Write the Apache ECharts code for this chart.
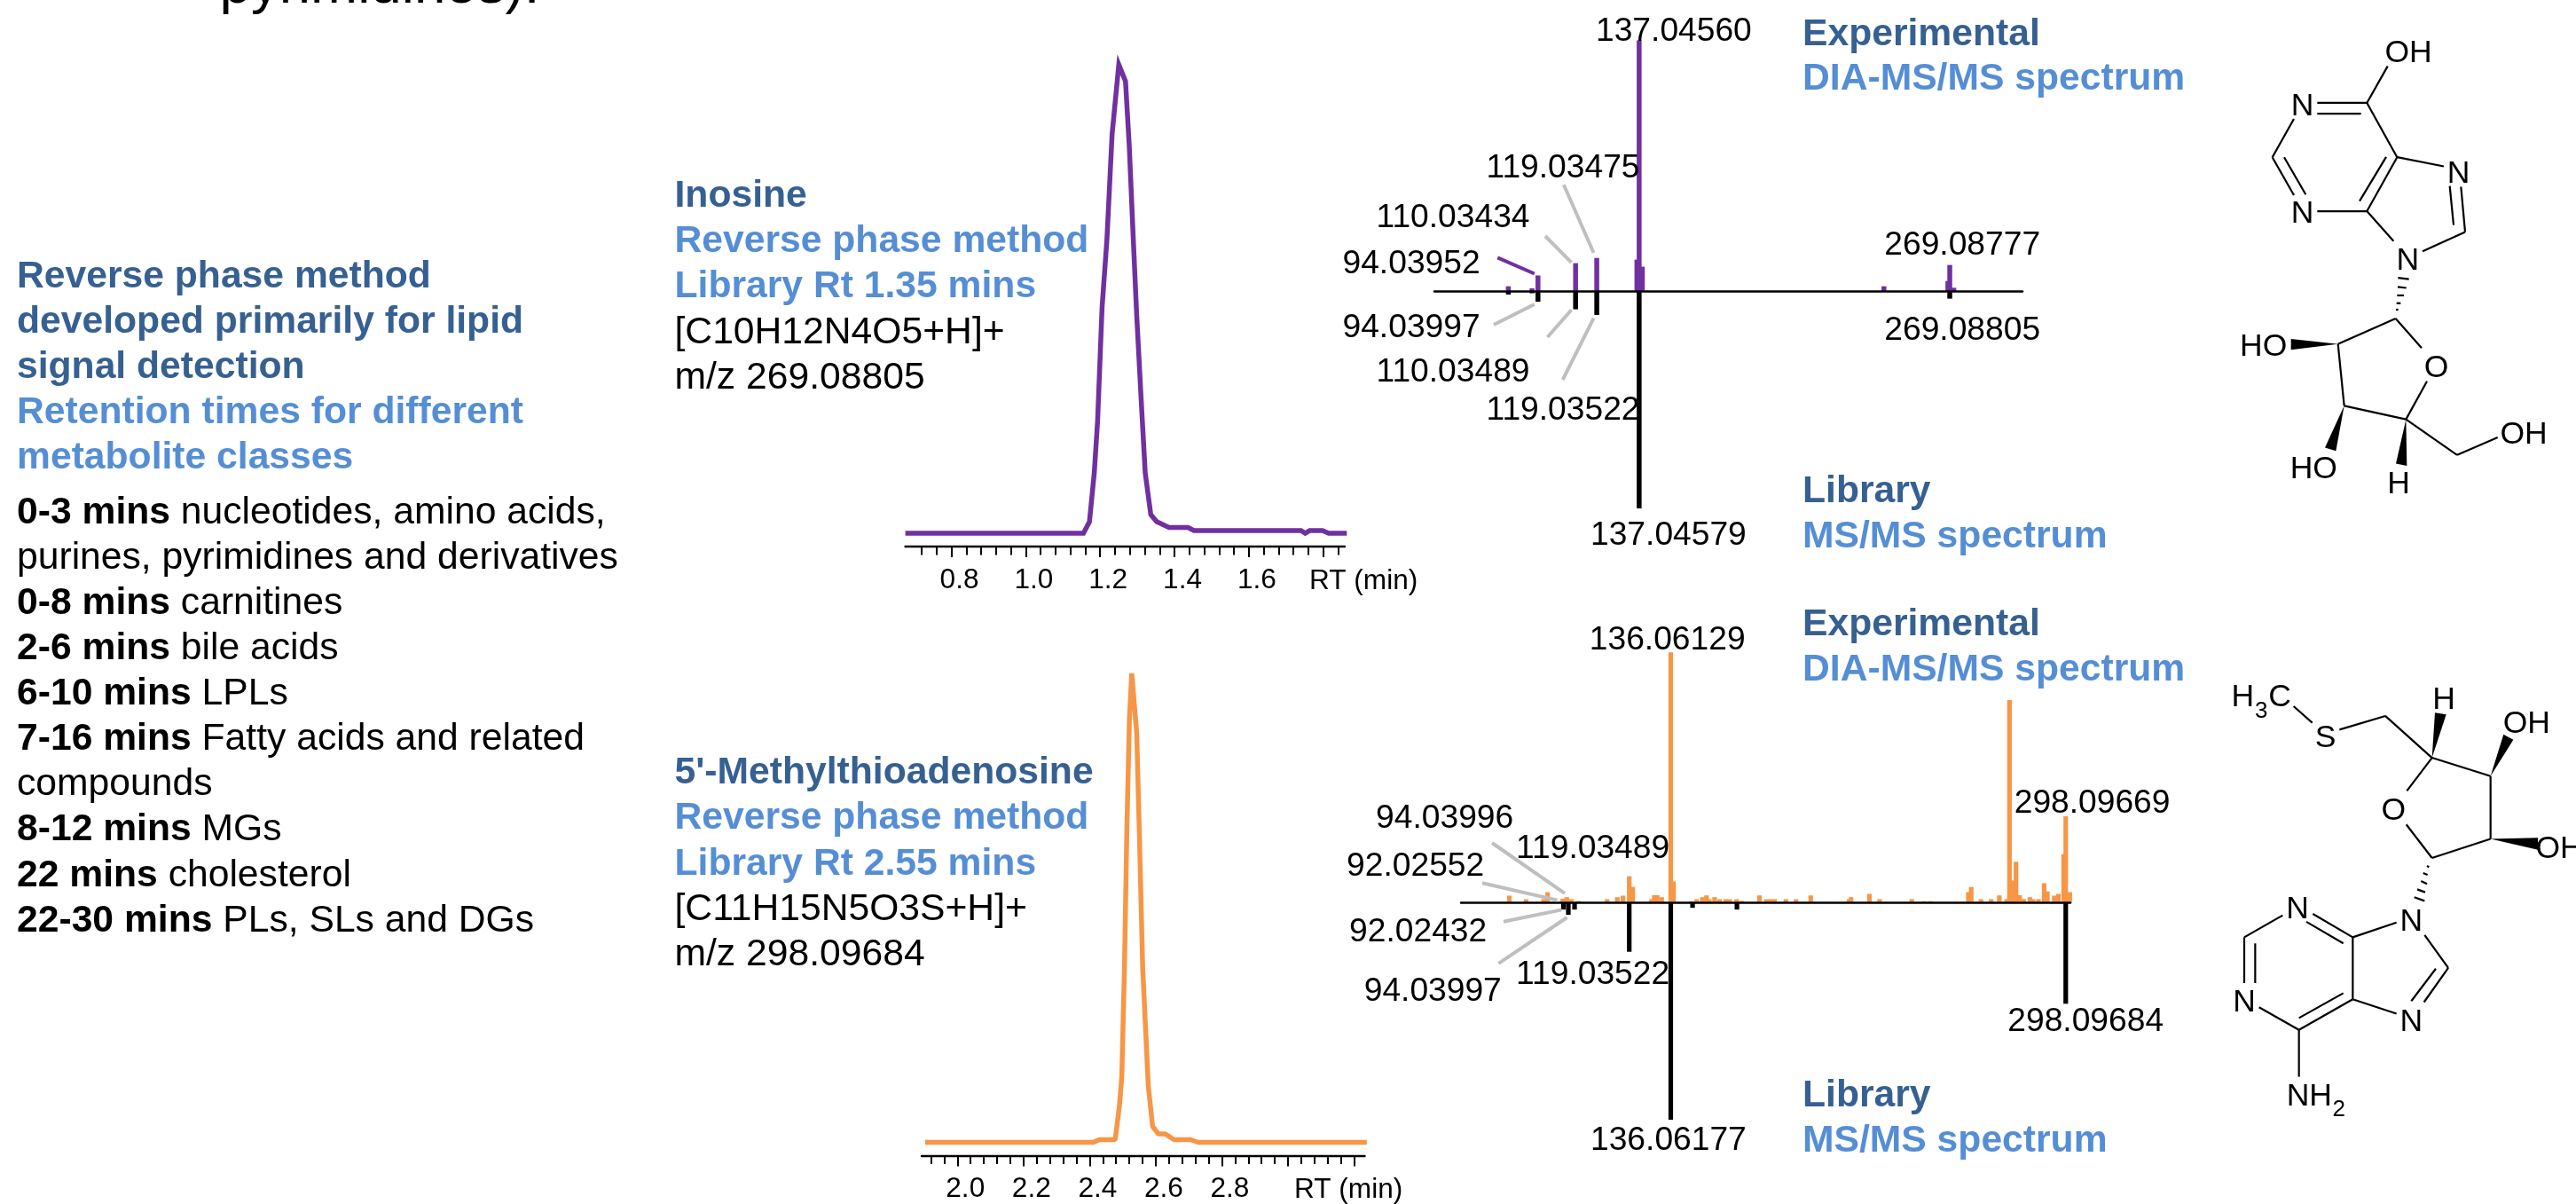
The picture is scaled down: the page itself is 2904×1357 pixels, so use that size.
<!DOCTYPE html>
<html><head><meta charset="utf-8">
<style>html,body{margin:0;padding:0;background:#fff}#c{width:2904px;height:1357px}</style>
<script src="https://cdn.jsdelivr.net/npm/echarts@6/dist/echarts.min.js"></script>
</head><body><div id="c"></div>
<script>
// ---------- data ----------
const rtInosine = [0.676,1.155,1.171,1.184,1.193,1.205,1.218,1.232,1.250,1.268,1.278,1.289,1.298,1.312,1.321,1.336,1.352,1.385,1.436,1.452,1.740,1.751,1.763,1.798,1.814,1.863];
const intInosine = [0,0,2.4,12.6,23.6,47.2,61.4,83.5,98,94.5,81.1,61.4,45.7,25.2,12.6,3.9,2.4,1.2,1.2,0.55,0.55,0,0.55,0.55,0,0];
const rtMta = [1.903,2.411,2.429,2.477,2.490,2.497,2.505,2.512,2.520,2.527,2.542,2.550,2.560,2.577,2.590,2.607,2.628,2.655,2.705,2.728,3.237];
const intMta = [0,0,0.57,0.57,7.9,14.1,37.3,65.9,90.4,100,87.2,65.9,37.3,12,3.4,1.8,1.8,0.57,0.57,0,0];
const majorTicksInosine = [0.8,1.0,1.2,1.4,1.6,1.8];
const minorTicksInosine = [0.72,0.76,0.84,0.88,0.92,0.96,1.04,1.08,1.12,1.16,1.24,1.28,1.32,1.36,1.44,1.48,1.52,1.56,1.64,1.68,1.72,1.76,1.84];
const tickLabelsInosine = [0.8,1.0,1.2,1.4,1.6];
const majorTicksMta = [2.0,2.2,2.4,2.6,2.8,3.0,3.2];
const minorTicksMta = [1.92,1.96,2.04,2.08,2.12,2.16,2.24,2.28,2.32,2.36,2.44,2.48,2.52,2.56,2.64,2.68,2.72,2.76,2.84,2.88,2.92,2.96,3.04,3.08,3.12,3.16,3.24];
const tickLabelsMta = [2.0,2.2,2.4,2.6,2.8];

const mzExpInosine = [81.45,91.5,94.04,110.03,119.03,136.1,137.05,138.4,241.1,268.3,269.09,270.8];
const intExpInosine = [2.0,1.2,6.3,11.2,13.3,12.6,100,9.8,2.0,4.1,10.5,1.4];
const mzLibInosine = [81.45,91.5,94.04,110.03,119.035,137.05,269.09];
const intLibInosine = [1.5,0.9,4.8,8.3,10.9,100,3.4];

const mzExpMta = [69.84,76.69,83.87,85.55,91.73,93.40,95.24,98.24,109.94,114.12,116.46,119.035,120.47,128.15,129.32,130.49,132.33,136.06,137.2,144.36,146.7,149.04,150.71,151.88,154.05,156.05,158.56,160.23,163.07,165.24,172.43,175.27,176.94,178.61,183.29,187.47,193.48,209.19,210.02,217.54,221.72,234.92,239.93,242.6,258.14,259.31,263.32,267.5,270.84,273.85,275.02,276.36,277.69,279.2,280.87,283.38,284.71,286.88,289.22,290.56,293.4,295.07,297.24,298.097,299.75];
const intExpMta = [2.6,1.2,1.2,4.0,1.4,2.0,1.2,0.5,1.2,2.0,2.6,10.4,6.1,1.2,2.8,2.8,2.0,100,8.3,0.4,1.2,2,2.7,1.2,2,1.2,1.2,1.2,1.2,0.5,2.7,1.2,1.2,1.2,1.2,1.2,2.7,1.2,2,3.3,1.2,1.2,0.4,0.4,4,6.1,1.2,1.2,2.7,1.2,80.9,8.7,16.2,2.8,1.2,2,1.2,1.2,7.6,4.3,2.6,3.3,19.2,34.4,4];
const mzLibMta = [92.02,94.04,96.6,119.035,136.06,145.0,163.2,298.097];
const intLibMta = [3.4,5.8,3.4,22.8,100,2.6,3.4,46.7];

// ---------- text ----------
const sideTextLines = [
  ['d','Reverse phase method',310],['d','developed primarily for lipid',361],['d','signal detection',412],
  ['l','Retention times for different',463],['l','metabolite classes',514],
  ['k','{b|0-3 mins} nucleotides, amino acids,',575.5],['k','purines, pyrimidines and derivatives',626.6],
  ['k','{b|0-8 mins} carnitines',677.7],['k','{b|2-6 mins} bile acids',728.8],['k','{b|6-10 mins} LPLs',779.9],
  ['k','{b|7-16 mins} Fatty acids and related',831],['k','compounds',882.1],['k','{b|8-12 mins} MGs',933.2],
  ['k','{b|22 mins} cholesterol',984.3],['k','{b|22-30 mins} PLs, SLs and DGs',1035.4]
];
const inosineText = [['d','Inosine',219],['l','Reverse phase method',270],['l','Library Rt 1.35 mins',320.5],['k','[C10H12N4O5+H]+',372.7],['k','m/z 269.08805',424]];
const mtaText = [['d',"5'-Methylthioadenosine",868.7],['l','Reverse phase method',919.6],['l','Library Rt 2.55 mins',971.5],['k','[C11H15N5O3S+H]+',1023],['k','m/z 298.09684',1073.8]];
const panelText = [['d','Experimental',37],['l','DIA-MS/MS spectrum',87],['d','Library',552],['l','MS/MS spectrum',602.7],
  ['d','Experimental',701.6],['l','DIA-MS/MS spectrum',752.5],['d','Library',1232.7],['l','MS/MS spectrum',1283.6]];
const peakLabels = [
  ['137.04560',1799,33.7],['119.03475',1675.5,187.3],['110.03434',1551.5,242.8],['94.03952',1513.5,295.5],['269.08777',2124.3,274.4],
  ['94.03997',1513.5,367],['110.03489',1551.5,417.5],['119.03522',1675.5,460.4],['269.08805',2124.3,370.4],['137.04579',1793,601],
  ['136.06129',1791.8,719.7],['298.09669',2270.7,903.2],['94.03996',1551.1,920.5],['119.03489',1709.1,954.2],['92.02552',1518.1,974.5],
  ['92.02432',1521.1,1047.9],['119.03522',1709.1,1096.7],['94.03997',1537.7,1115.2],['298.09684',2263.3,1149.4],['136.06177',1793,1283.6]
];
const leaderLines = [
  [1762.9,208.3,1796.6,285,'g'],[1742,266,1771.5,295.9,'g'],[1688.2,290.4,1729.8,308.5,'p'],
  [1684,366,1729.8,343,'g'],[1744.5,380,1771.5,349.3,'g'],[1761.7,428,1796.6,358.6,'g'],
  [1682,950,1764,1006.8,'g'],[1671,995.2,1755.6,1014.6,'g'],[1695,1038.8,1760.5,1025.4,'g'],[1689.4,1085.9,1766.6,1034,'g']
];

// ---------- structure drawings (crop-space coordinates, mapped below) ----------
const inosineBonds = [[685,303,755,195],[517,303,685,303],[517,335,665,335],[685,303,787,463],[438,350,365,463],[365,463,438,575],[405,463,478,573],[517,622,685,622],[685,622,787,463],[660,592,750,462],[787,463,945,490],[965,548,978,663],[1003,550,1017,683],[1017,683,873,740],[685,622,775,710],[782,938,870,1025],[782,938,587,1013],[587,1013,608,1195],[608,1195,817,1235],[817,1235,888,1123],[817,1235,990,1340],[990,1340,1127,1288],
  [783,912,791,912],[785,893,799,893],[787,870,810,870],[789,845,818,848],[790,818,827,822]];
const inosineWedges = [[587,1013,428,998,428,1030],[608,1195,543,1318,580,1328],[817,1235,783,1365,820,1372]];
const inosineAtoms = [['OH',825,150],['N',467,307],['N',467,625],['N',995,505],['N',823,762],['HO',335,1015],['O',920,1078],['OH',1215,1275],['HO',505,1375],['H',792,1420]];
const mtaBonds = [[437,187,500,233],[592,252,747,214],[747,214,905,330],[905,330,1103,381],[1103,381,1103,555],[1103,555,905,608],[905,608,818,515],[820,422,905,330],[880,822,960,913],[960,913,878,1008],[918,915,835,1005],[785,1040,637,1000],[637,1000,637,828],[637,828,785,787],[637,828,502,763],[605,845,480,785],[400,767,270,828],[270,828,270,955],[307,845,307,955],[320,1022,455,1085],[455,1085,637,1000],[455,1052,605,983],[455,1085,455,1215],
  [888,630,895,633],[875,650,890,655],[868,672,888,680],[855,695,882,703],[845,717,880,727]];
const mtaWedges = [[905,330,915,205,953,210],[1103,381,1147,265,1180,280],[1103,555,1263,552,1263,585]];
const mtaAtoms = [['H',265,157],['C',390,157],['S',545,270],['H',945,165],['OH',1225,230],['O',775,472],['OH',1335,578],['N',450,745],['N',835,780],['N',270,1003],['N',835,1057],['NH',490,1265]];
const mtaSubscripts = [['3',328,195],['2',590,1300]];

// ---------- styles ----------
const FF = '"Liberation Sans", Arial, sans-serif';
const COL = {d:'#366092', l:'#558ED5', k:'#000000', p:'#7030A0', o:'#F79646', g:'#BFBFBF'};
const TEXT_DY = 2.5;

const graphic = [];
const txt = (text,x,y,size,fill,opt={}) => graphic.push({type:'text',x,y:y+TEXT_DY,silent:true,z:20,style:Object.assign({text,fill,font:(opt.bold?'bold ':'')+size+'px '+FF,verticalAlign:'middle',align:opt.align||'left'},opt.rich?{rich:opt.rich}:{})});
const block = (rows,x) => rows.forEach(([c,t,y])=>txt(t,x,y,42.65,COL[c],{bold:c!=='k',rich:c==='k'?{b:{font:'bold 42.65px '+FF,fill:'#000'}}:null}));
const seg = (x1,y1,x2,y2,stroke,lineWidth) => graphic.push({type:'line',silent:true,z:15,shape:{x1,y1,x2,y2},style:{stroke,lineWidth,lineCap:'butt'}});

txt('pyrimidines).',247.5,-17.4,63.7,'#000');
block(sideTextLines,19);
block(inosineText,760.5);
block(mtaText,760.5);
block(panelText,2032);
peakLabels.forEach(([t,x,y])=>txt(t,x,y,37.2,'#000'));
leaderLines.forEach(([a,b,c,d,k])=>seg(a,b,c,d,COL[k],4));
txt('RT (min)',1476,652.6,31.6,'#000');
txt('RT (min)',1459,1339,31.6,'#000');

function molecule(bonds,wedges,atoms,ox,oy,sx,sy){
  const X=v=>ox+v/sx, Y=v=>oy+v/sy;
  bonds.forEach(b=>seg(X(b[0]),Y(b[1]),X(b[2]),Y(b[3]),'#000',2.2));
  wedges.forEach(w=>graphic.push({type:'polygon',silent:true,z:15,shape:{points:[[X(w[0]),Y(w[1])],[X(w[2]),Y(w[3])],[X(w[4]),Y(w[5])]]},style:{fill:'#000'}}));
  atoms.forEach(([t,x,y])=>txt(t,X(x),Y(y),35.5,'#000',{align:'center'}));
  return {X,Y};
}
molecule(inosineBonds,inosineWedges,inosineAtoms,2440,0,3,2.613);
const m2 = molecule(mtaBonds,mtaWedges,mtaAtoms,2440,720,3,2.4615);
mtaSubscripts.forEach(([t,x,y])=>txt(t,m2.X(x),m2.Y(y),26,'#000',{align:'center'}));

// ---------- chart components ----------
const grid=[], xAxis=[], yAxis=[], series=[];
function addGrid(left,top,width,height){ grid.push({left,top,width,height,containLabel:false}); return grid.length-1; }
const hiddenY = (g,o={}) => yAxis.push(Object.assign({gridIndex:g,type:'value',show:false},o));
function chromatogram(rt,ints,color,join,lineBox,axisBox,major,minor,labels,axisDomain,yMin){
  const g=addGrid(lineBox.left,lineBox.top,lineBox.width,lineBox.height);
  xAxis.push({gridIndex:g,type:'value',show:false,min:rt[0],max:rt[rt.length-1]});
  yAxis.push({gridIndex:g,type:'value',show:false,min:yMin,max:100});
  series.push({type:'line',xAxisIndex:xAxis.length-1,yAxisIndex:yAxis.length-1,data:rt.map((v,i)=>[v,ints[i]]),showSymbol:false,symbol:'none',smooth:false,clip:false,silent:true,lineStyle:{color,width:5.5,join,miterLimit:20,cap:'butt'}});
  const a=addGrid(axisBox.left,axisBox.top,axisBox.width,1);
  hiddenY(a,{min:0,max:1});
  const base={gridIndex:a,type:'value',position:'bottom',min:axisDomain[0],max:axisDomain[1],splitLine:{show:false},silent:true};
  xAxis.push(Object.assign({},base,{axisLine:{show:true,onZero:false,lineStyle:{color:'#000',width:2.4}},axisTick:{show:false},axisLabel:{show:false}}));
  xAxis.push(Object.assign({},base,{offset:4,axisLine:{show:false},
    axisTick:{show:true,customValues:major,length:12,lineStyle:{color:'#000',width:2}},
    axisLabel:{show:true,customValues:labels,margin:18,padding:[0,0,0,18],color:'#000',fontFamily:FF,fontSize:31.6,formatter:v=>Number(v).toFixed(1),hideOverlap:false,showMinLabel:true,showMaxLabel:true}}));
  xAxis.push(Object.assign({},base,{offset:4,axisLine:{show:false},
    axisTick:{show:true,customValues:minor,length:9.5,lineStyle:{color:'#000',width:2}},axisLabel:{show:false}}));
  hiddenY(a,{min:0,max:1});
}
function spectrum(mzE,intE,mzL,intL,color,box,barW){
  const up=addGrid(box.left,box.top,box.width,box.base-box.top);
  xAxis.push({gridIndex:up,type:'value',min:50,max:300,position:'bottom',z:6,axisLine:{show:true,onZero:false,lineStyle:{color:'#000',width:2.5}},axisTick:{show:false},axisLabel:{show:false},splitLine:{show:false}});
  yAxis.push({gridIndex:up,type:'value',show:false,min:0,max:100});
  series.push({type:'bar',xAxisIndex:xAxis.length-1,yAxisIndex:yAxis.length-1,barWidth:barW,clip:false,silent:true,itemStyle:{color},data:mzE.map((v,i)=>[v,intE[i]]),z:3});
  const lo=addGrid(box.left,box.base,box.width,box.bottom-box.base);
  xAxis.push({gridIndex:lo,type:'value',min:50,max:300,show:false});
  yAxis.push({gridIndex:lo,type:'value',show:false,min:0,max:100,inverse:true});
  series.push({type:'bar',xAxisIndex:xAxis.length-1,yAxisIndex:yAxis.length-1,barWidth:barW,clip:false,silent:true,itemStyle:{color:'#000'},data:mzL.map((v,i)=>[v,intL[i]]),z:2});
}
chromatogram(rtInosine,intInosine,COL.p,'miter',{left:1020.6,top:62,width:497.7,height:554},{left:1020.6,top:615,width:495.4},majorTicksInosine,minorTicksInosine,tickLabelsInosine,[0.676,1.858],-2.78);
chromatogram(rtMta,intMta,COL.o,'bevel',{left:1043,top:759,width:497.8,height:543.6},{left:1039,top:1301.6,width:499.5},majorTicksMta,minorTicksMta,tickLabelsMta,[1.892,3.232],-2.86);
spectrum(mzExpInosine,intExpInosine,mzLibInosine,intLibInosine,COL.p,{left:1617,width:663,top:45.5,base:328.3,bottom:573},5.5);
spectrum(mzExpMta,intExpMta,mzLibMta,intLibMta,COL.o,{left:1647,width:687,top:735.3,base:1016.8,bottom:1262},5.2);

const chart=echarts.init(document.getElementById('c'),null,{renderer:'canvas'});
chart.setOption({animation:false,backgroundColor:'#fff',tooltip:{show:false},grid,xAxis,yAxis,series,graphic:{elements:graphic}});
</script></body></html>
